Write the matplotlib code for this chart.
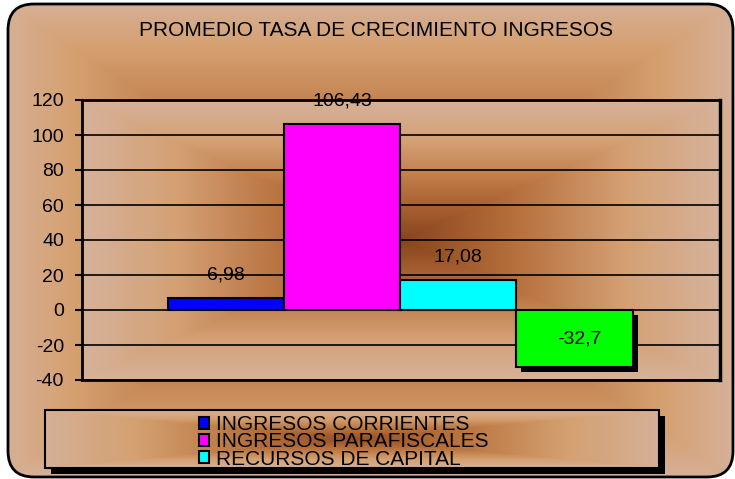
import numpy as np
import matplotlib
matplotlib.use("Agg")
import matplotlib.pyplot as plt
from matplotlib.patches import FancyBboxPatch, Rectangle
from matplotlib.transforms import ScaledTranslation

# ---------------- data ----------------
title = "PROMEDIO TASA DE CRECIMIENTO INGRESOS"
series_names = ["INGRESOS CORRIENTES", "INGRESOS PARAFISCALES", "RECURSOS DE CAPITAL"]
series_values = [6.98, 106.43, 17.08, -32.7]
value_labels = ["6,98", "106,43", "17,08", "-32,7"]
series_colors = ["#0000ff", "#ff00ff", "#00ffff", "#00ff00"]
y_ticks = [-40, -20, 0, 20, 40, 60, 80, 100, 120]
y_tick_labels = ["-40", "-20", "0", "20", "40", "60", "80", "100", "120"]

# ---------------- layout (pixels) ----------------
W, H, DPI = 735, 479, 100
PL, PR, PT, PB = 82, 720, 100, 380          # plot area
LL, LR, LT, LB = 45, 659, 410, 468          # legend box
FONT = "Liberation Sans"
FS = 14

plt.rcParams["font.family"] = [FONT, "DejaVu Sans"]

fig = plt.figure(figsize=(W / DPI, H / DPI), dpi=DPI, facecolor="white")


def grad_img(w, h, stops_d, stops_c):
    x = np.abs(np.linspace(-1, 1, w))
    y = np.abs(np.linspace(-1, 1, h))
    d = np.maximum(x[None, :], y[:, None])
    img = np.stack([np.interp(d, stops_d, [c[i] for c in stops_c]) for i in range(3)], axis=-1)
    return img / 255.0


# background axes in pixel coordinates
bg = fig.add_axes([0, 0, 1, 1], zorder=-10)
bg.set_xlim(0, W)
bg.set_ylim(H, 0)
bg.axis("off")

fig_stops_d = [0.0, 0.5, 0.8, 1.0]
fig_stops_c = [(130, 65, 25), (190, 122, 72), (213, 160, 112), (213, 177, 153)]
frame = FancyBboxPatch((8, 4), W - 10, H - 6, boxstyle="round,pad=0,rounding_size=26",
                       facecolor="none", edgecolor="black", lw=2, zorder=5)
bg.add_patch(frame)
im = bg.imshow(grad_img(W, H, fig_stops_d, fig_stops_c), extent=[0, W, H, 0],
               aspect="auto", zorder=0, interpolation="bilinear")
im.set_clip_path(frame)

plot_stops_d = [0.0, 0.35, 0.7, 1.0]
plot_stops_c = [(135, 68, 28), (182, 110, 60), (212, 160, 115), (214, 178, 155)]
bg.imshow(grad_img(PR - PL, PB - PT, plot_stops_d, plot_stops_c), extent=[PL, PR, PB, PT],
          aspect="auto", zorder=1, interpolation="bilinear")

# legend box with shadow
bg.add_patch(Rectangle((LL + 6, LT + 6), LR - LL, LB - LT, facecolor="black", edgecolor="none", zorder=2))
bg.imshow(grad_img(LR - LL, LB - LT, [0.0, 0.35, 0.7, 1.0],
                   [(150, 80, 35), (185, 115, 62), (212, 160, 112), (213, 176, 152)]),
          extent=[LL, LR, LB, LT], aspect="auto", zorder=3, interpolation="bilinear")
bg.add_patch(Rectangle((LL, LT), LR - LL, LB - LT, facecolor="none", edgecolor="black", lw=1.5, zorder=4))
bg.set_xlim(0, W)
bg.set_ylim(H, 0)

# title
fig.text(376 / W, 1 - 31 / H, title, ha="center", va="center", fontsize=15, color="black")

# ---------------- main plot ----------------
ax = fig.add_axes([PL / W, 1 - PB / H, (PR - PL) / W, (PB - PT) / H])
ax.patch.set_visible(False)
x = np.arange(len(series_values))

shadow_tr = ax.transData + ScaledTranslation(5 / DPI, -5 / DPI, fig.dpi_scale_trans)
ax.bar(x[3:], series_values[3:], width=1.0, color="black", edgecolor="none",
       transform=shadow_tr, zorder=2)

bars = ax.bar(x, series_values, width=1.0, color=series_colors, edgecolor="black",
              linewidth=1.5, zorder=3)

for xi, v, lab in zip(x, series_values, value_labels):
    dx, dy = (0, 23) if v >= 0 else (5, 28)
    ax.annotate(lab, (xi, v), xytext=(dx, dy), textcoords="offset pixels",
                ha="center", va="center", fontsize=FS, color="black", zorder=5)

ax.set_ylim(-40, 120)
ax.set_xlim(-1.236, 4.25)
ax.set_yticks(y_ticks)
ax.set_yticklabels(y_tick_labels)
ax.set_xticks([])
ax.yaxis.grid(True, color="black", lw=1.2)
ax.set_axisbelow(True)
ax.tick_params(axis="y", length=5, width=1.5, pad=8, labelsize=FS, colors="black")
for s in ax.spines.values():
    s.set_color("black")
    s.set_linewidth(2)
ax.spines["right"].set_linewidth(2.5)

leg = ax.legend(bars.patches[:3], series_names, loc="upper left",
                bbox_to_anchor=(199 / W, 1 - 415 / H), bbox_transform=fig.transFigure,
                frameon=False, fontsize=15, handlelength=0.5, handleheight=0.5,
                handletextpad=0.3, labelspacing=-0.08, borderpad=0, borderaxespad=0)

fig.savefig("out.png", dpi=DPI, facecolor="white")
